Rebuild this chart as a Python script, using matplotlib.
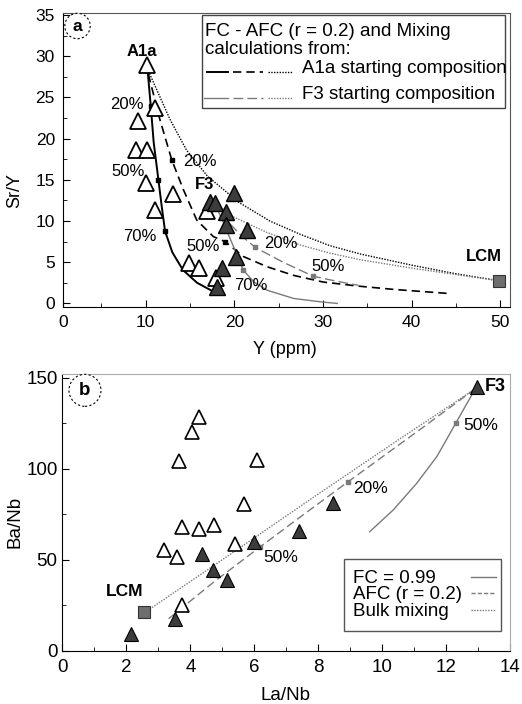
import numpy as np
import matplotlib.pyplot as plt
from matplotlib.ticker import MultipleLocator

plt.rcParams['font.family'] = ['Liberation Sans', 'DejaVu Sans']

# ---------------- panel a data: Sr/Y vs Y ----------------
a_open_x = [10.1, 11.05, 9.17, 8.91, 10.12, 10.04, 13.05, 11.05, 16.9, 14.93, 16.06, 17.94]
a_open_y = [28.9, 23.7, 22.1, 18.6, 18.6, 14.65, 13.3, 11.3, 11.2, 4.86, 4.3, 3.1]
a_fill_x = [19.98, 17.26, 17.83, 19.07, 19.07, 21.4, 20.2, 18.58, 18.02]
a_fill_y = [13.37, 12.35, 12.15, 11.13, 9.51, 8.9, 5.66, 4.25, 2.02]
a_lcm = (49.9, 2.75)

# A1a starting composition
a1_fc_x = [10.2, 10.57, 10.9, 11.43, 11.8, 12.18, 13.0, 14.2, 15.8, 17.7]
a1_fc_y = [28.4, 23.9, 19.5, 15.0, 11.8, 8.76, 6.2, 4.05, 2.5, 1.4]
a1_afc_x = [10.3, 11.6, 12.94, 14.25, 15.76, 17.64, 18.96, 21.0, 23.7, 26.7, 30.0, 34.0, 38.0, 44.3]
a1_afc_y = [27.8, 22.3, 17.4, 13.8, 10.1, 8.1, 7.5, 5.7, 4.45, 3.4, 2.6, 2.1, 1.7, 1.2]
a1_mix_x = [10.3, 12.75, 14.6, 17.0, 20.6, 24.0, 27.4, 30.8, 34.2, 40.2, 45.0, 49.9]
a1_mix_y = [28.2, 22.3, 18.6, 15.4, 12.2, 10.0, 8.4, 7.0, 6.0, 4.6, 3.6, 2.75]
# F3 starting composition
f3_fc_x = [17.64, 18.8, 19.9, 21.0, 22.2, 23.7, 26.7, 29.7, 31.6]
f3_fc_y = [12.55, 9.7, 6.9, 4.05, 2.6, 1.6, 0.6, 0.2, 0.0]
f3_afc_x = [17.6, 19.2, 20.8, 22.35, 25.5, 28.9, 31.5, 34.0]
f3_afc_y = [12.3, 10.0, 8.2, 6.8, 5.0, 3.3, 2.7, 2.2]
f3_mix_x = [17.6, 19.9, 23.7, 27.4, 30.8, 34.2, 40.2, 45.0, 49.9]
f3_mix_y = [12.3, 10.5, 8.6, 7.1, 6.1, 5.3, 4.25, 3.5, 2.75]

a_tick_blk_x = [10.57, 11.43, 12.18, 12.94, 18.96]
a_tick_blk_y = [23.9, 15.0, 8.76, 17.4, 7.5]
a_tick_gry_x = [22.35, 28.9, 21.0]
a_tick_gry_y = [6.8, 3.3, 4.05]

a_labels = [('20%', 7.9, 24.1), ('50%', 8.0, 16.0), ('70%', 9.3, 8.1),
            ('20%', 16.1, 17.2), ('50%', 16.5, 6.96), ('70%', 21.9, 2.2),
            ('20%', 25.2, 7.3), ('50%', 30.6, 4.45)]
a_bold = [('A1a', 9.6, 30.6), ('F3', 16.6, 14.4), ('LCM', 48.1, 5.7)]

# ---------------- panel b data: Ba/Nb vs La/Nb ----------------
b_open_x = [4.28, 4.06, 3.65, 6.07, 5.68, 3.72, 4.28, 4.72, 5.39, 3.17, 3.59, 3.72]
b_open_y = [128.5, 120.0, 104.6, 104.8, 80.8, 68.1, 67.2, 69.4, 59.0, 55.3, 51.6, 25.1]
b_fill_x = [12.96, 8.44, 7.4, 5.98, 4.35, 4.71, 5.13, 3.51, 2.13]
b_fill_y = [145.0, 81.3, 65.9, 59.9, 53.5, 44.3, 39.2, 17.8, 9.5]
b_lcm = (2.55, 21.4)

b_fc_x = [12.9, 12.3, 11.7, 11.07, 10.34, 9.6]
b_fc_y = [144.0, 125.4, 106.8, 92.1, 77.5, 65.5]
b_afc_x = [12.9, 11.17, 8.93, 7.5, 6.17, 4.7, 3.26]
b_afc_y = [144.0, 121.6, 93.0, 74.5, 57.1, 37.5, 16.9]
b_mix_x = [12.9, 10.5, 8.0, 5.96, 4.0, 2.6]
b_mix_y = [144.0, 116.0, 86.3, 61.7, 38.2, 21.5]

b_tick_x = [12.3, 8.93, 6.17]
b_tick_y = [125.4, 93.0, 57.1]
b_labels = [('50%', 12.52, 123.6), ('20%', 9.07, 89.2), ('50%', 6.28, 51.6)]

DARK = '#3c3c3c'
GRAY = '#7a7a7a'

fig = plt.figure(figsize=(5.22, 7.04), dpi=100)

# ================= panel a =================
ax = fig.add_axes([0.1213, 0.5643, 0.8557, 0.4168])
ax.plot(a1_fc_x, a1_fc_y, color='black', lw=1.4)
ax.plot(a1_afc_x, a1_afc_y, color='black', lw=1.2, dashes=(5, 3))
ax.plot(a1_mix_x, a1_mix_y, color='black', lw=1.0, ls=(0, (1, 1)))
ax.plot(f3_fc_x, f3_fc_y, color=GRAY, lw=1.0)
ax.plot(f3_afc_x, f3_afc_y, color=GRAY, lw=1.0, dashes=(7, 3))
ax.plot(f3_mix_x, f3_mix_y, color=GRAY, lw=1.0, ls=(0, (1, 1)))
ax.plot(a_tick_blk_x, a_tick_blk_y, 's', color='black', ms=3, zorder=4)
ax.plot(a_tick_gry_x, a_tick_gry_y, 's', color=GRAY, ms=3, zorder=4)

ax.plot(a_open_x, a_open_y, '^', mfc='white', mec='black', mew=1.3, ms=12, ls='none', zorder=5)
ax.plot(a_fill_x, a_fill_y, '^', mfc=DARK, mec='black', mew=1.0, ms=12, ls='none', zorder=5)
ax.plot(*a_lcm, 's', mfc='#6e6e6e', mec='#333333', mew=0.8, ms=9, zorder=5)

for t, x, y in a_labels:
    ax.text(x, y, t, fontsize=12, ha='center', va='center', zorder=6)
for t, x, y in a_bold:
    ax.text(x, y, t, fontsize=12, fontweight='bold', ha='center', va='center', zorder=6)

ax.set_xlim(0.7, 51.1)
ax.set_ylim(-0.4, 35.2)
ax.set_xticks([0.7, 10, 20, 30, 40, 50], labels=['0', '10', '20', '30', '40', '50'])
ax.xaxis.set_minor_locator(MultipleLocator(5))
ax.yaxis.set_major_locator(MultipleLocator(5))
ax.yaxis.set_minor_locator(MultipleLocator(2.5))
ax.tick_params(which='both', direction='in', labelsize=12.5, length=5, pad=6)
ax.tick_params(which='minor', length=3)
for s in ['top', 'right']:
    ax.spines[s].set_color('#555555')

# legend box drawn by hand
ax.add_patch(plt.Rectangle((0.3097, 0.6772), 0.6791, 0.317, transform=ax.transAxes,
                           fc='white', ec='#444444', lw=1.0, zorder=7))
ax.text(0.3172, 0.9373, 'FC - AFC (r = 0.2) and Mixing', transform=ax.transAxes,
        fontsize=13.5, va='center', zorder=8)
ax.text(0.3172, 0.875, 'calculations from:', transform=ax.transAxes,
        fontsize=13.5, va='center', zorder=8)
ax.text(0.5337, 0.8125, 'A1a starting composition', transform=ax.transAxes,
        fontsize=13.5, va='center', zorder=8)
ax.text(0.5337, 0.724, 'F3 starting composition', transform=ax.transAxes,
        fontsize=13.5, va='center', zorder=8)
ax.plot([0.321, 0.369], [0.799, 0.799], transform=ax.transAxes, color='black', lw=1.4, zorder=8)
ax.plot([0.380, 0.447], [0.799, 0.799], transform=ax.transAxes, color='black', lw=1.2, dashes=(5, 3), zorder=8)
ax.plot([0.458, 0.514], [0.799, 0.799], transform=ax.transAxes, color='black', lw=1.0, ls=(0, (1, 1)), zorder=8)
ax.plot([0.316, 0.369], [0.711, 0.711], transform=ax.transAxes, color=GRAY, lw=1.0, zorder=8)
ax.plot([0.380, 0.447], [0.711, 0.711], transform=ax.transAxes, color=GRAY, lw=1.0, dashes=(7, 3), zorder=8)
ax.plot([0.458, 0.514], [0.711, 0.711], transform=ax.transAxes, color=GRAY, lw=1.0, ls=(0, (1, 1)), zorder=8)

ax.text(0.0318, 0.9567, 'a', transform=ax.transAxes, fontsize=12.5, fontweight='bold',
        ha='center', va='center', zorder=8,
        bbox=dict(boxstyle='circle,pad=0.3', fc='white', ec='black', lw=0.8, ls=(0, (2, 2))))

fig.text(15 / 522, 1 - 190 / 704, 'Sr/Y', rotation=90, fontsize=13, ha='center', va='center')
fig.text(285 / 522, 1 - 349 / 704, 'Y (ppm)', fontsize=13, ha='center', va='center')

# ================= panel b =================
bx = fig.add_axes([0.1197, 0.0753, 0.8582, 0.3939])
bx.plot(b_fc_x, b_fc_y, color=GRAY, lw=1.0)
bx.plot(b_afc_x, b_afc_y, color=GRAY, lw=1.0, dashes=(6, 3))
bx.plot(b_mix_x, b_mix_y, color=GRAY, lw=1.0, ls=(0, (1, 1)))
bx.plot(b_tick_x, b_tick_y, 's', color=GRAY, ms=3, zorder=4)

bx.plot(b_open_x, b_open_y, '^', mfc='white', mec='black', mew=1.2, ms=9.5, ls='none', zorder=5)
bx.plot(b_fill_x, b_fill_y, '^', mfc=DARK, mec='black', mew=0.8, ms=9.5, ls='none', zorder=5)
bx.plot(*b_lcm, 's', mfc='#6e6e6e', mec='#333333', mew=0.8, ms=8, zorder=5)

for t, x, y in b_labels:
    bx.text(x, y, t, fontsize=12.5, ha='left', va='center', zorder=6)
bx.text(13.2, 145, 'F3', fontsize=13, fontweight='bold', ha='left', va='center', zorder=6)
bx.text(1.93, 32.8, 'LCM', fontsize=12.5, fontweight='bold', ha='center', va='center', zorder=6)

bx.set_xlim(0, 14)
bx.set_ylim(0, 152.3)
bx.xaxis.set_major_locator(MultipleLocator(2))
bx.xaxis.set_minor_locator(MultipleLocator(1))
bx.yaxis.set_major_locator(MultipleLocator(50))
bx.yaxis.set_minor_locator(MultipleLocator(25))
bx.tick_params(which='both', direction='in', labelsize=13.5, length=5)
bx.tick_params(axis='x', pad=6)
bx.tick_params(which='minor', length=3)
for s in ['top', 'right']:
    bx.spines[s].set_color('#aaaaaa')

bx.add_patch(plt.Rectangle((0.6295, 0.0736), 0.3497, 0.2593, transform=bx.transAxes,
                           fc='white', ec='#555555', lw=1.0, zorder=7))
for txt, yy, sty in [('FC = 0.99', 0.2607, '-'), ('AFC (r = 0.2)', 0.2030, (0, (3, 1.5))),
                     ('Bulk mixing', 0.1432, (0, (1, 1)))]:
    bx.text(0.6484, yy, txt, transform=bx.transAxes, fontsize=13.5, va='center', zorder=8)
    bx.plot([0.912, 0.968], [yy + 0.005, yy + 0.005], transform=bx.transAxes,
            color=GRAY, lw=1.0, ls=sty, zorder=8)

bx.text(0.0502, 0.940, 'b', transform=bx.transAxes, fontsize=13.5, fontweight='bold',
        ha='center', va='center', zorder=8,
        bbox=dict(boxstyle='circle,pad=0.4', fc='white', ec='black', lw=0.8, ls=(0, (2, 2))))

fig.text(15 / 522, 1 - 522 / 704, 'Ba/Nb', rotation=90, fontsize=13.5, ha='center', va='center')
fig.text(285 / 522, 1 - 695 / 704, 'La/Nb', fontsize=13.5, ha='center', va='center')

fig.savefig('out.png', dpi=100)
